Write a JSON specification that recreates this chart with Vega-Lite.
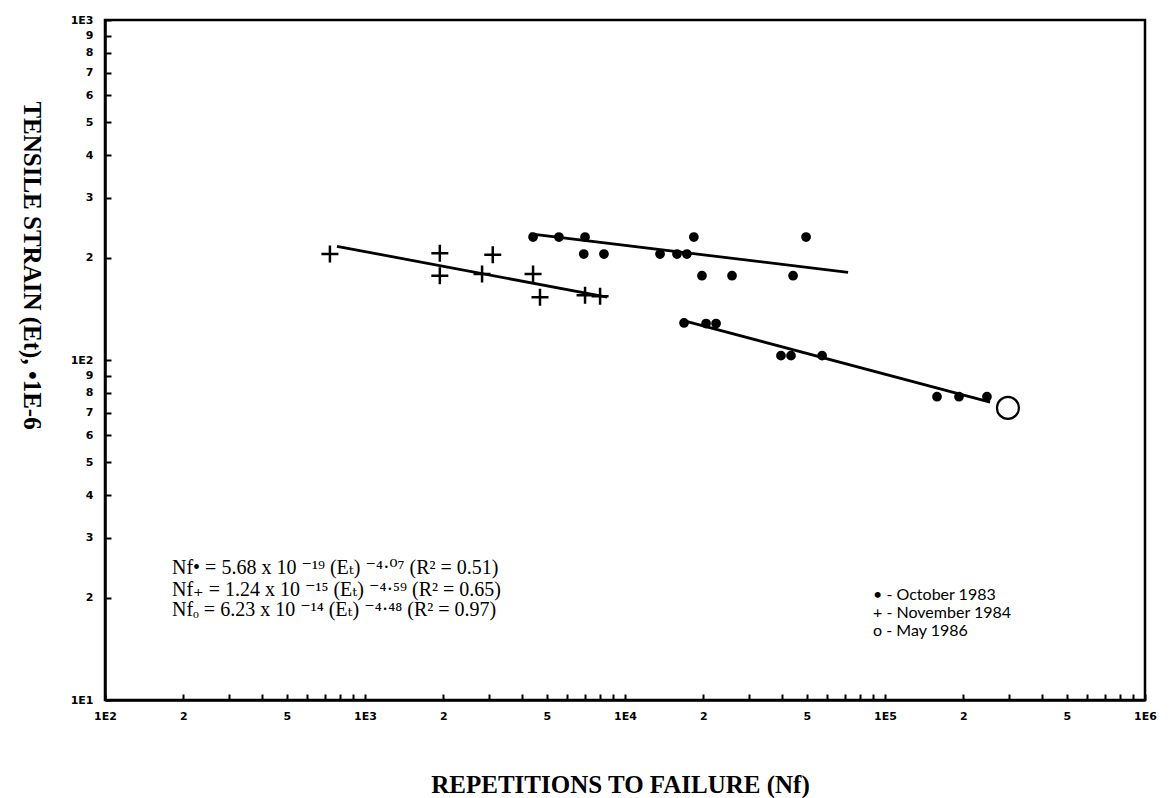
{
  "$schema": "https://vega.github.io/schema/vega-lite/v6.json",
  "width": 1040,
  "height": 680,
  "autosize": {"type": "none"},
  "padding": {"left": 105, "top": 20, "right": 27, "bottom": 98},
  "background": "white",
  "config": {
    "view": {"stroke": "black", "strokeWidth": 2.5},
    "axis": {
      "grid": false,
      "domainColor": "black",
      "domainWidth": 2.5,
      "tickColor": "black",
      "tickWidth": 2,
      "labelColor": "black",
      "labelFont": "DejaVu Sans",
      "labelFontWeight": "bold",
      "labelFontSize": 11,
      "labelFlush": false,
      "labelOverlap": false,
      "titleColor": "black",
      "titleFont": "Liberation Serif",
      "titleFontWeight": "bold"
    }
  },
  "datasets": {
    "points": [
      {"series": "October 1983", "N": 4430, "E": 230},
      {"series": "October 1983", "N": 5570, "E": 230},
      {"series": "October 1983", "N": 7020, "E": 230},
      {"series": "October 1983", "N": 6940, "E": 205},
      {"series": "October 1983", "N": 8300, "E": 205},
      {"series": "October 1983", "N": 13640, "E": 205},
      {"series": "October 1983", "N": 15850, "E": 205},
      {"series": "October 1983", "N": 17300, "E": 205},
      {"series": "October 1983", "N": 18400, "E": 230},
      {"series": "October 1983", "N": 19770, "E": 177},
      {"series": "October 1983", "N": 25800, "E": 177},
      {"series": "October 1983", "N": 44300, "E": 177},
      {"series": "October 1983", "N": 49700, "E": 230},
      {"series": "November 1984", "N": 733, "E": 205},
      {"series": "November 1984", "N": 1940, "E": 206},
      {"series": "November 1984", "N": 1940, "E": 177},
      {"series": "November 1984", "N": 3100, "E": 204},
      {"series": "November 1984", "N": 2820, "E": 179},
      {"series": "November 1984", "N": 4430, "E": 179},
      {"series": "November 1984", "N": 4710, "E": 153},
      {"series": "November 1984", "N": 7020, "E": 155},
      {"series": "November 1984", "N": 8020, "E": 154},
      {"series": "May 1986", "N": 16870, "E": 128.5},
      {"series": "May 1986", "N": 20500, "E": 128},
      {"series": "May 1986", "N": 22400, "E": 128},
      {"series": "May 1986", "N": 39800, "E": 103},
      {"series": "May 1986", "N": 43500, "E": 103},
      {"series": "May 1986", "N": 57300, "E": 103},
      {"series": "May 1986", "N": 158500, "E": 78},
      {"series": "May 1986", "N": 192600, "E": 78},
      {"series": "May 1986", "N": 246700, "E": 78}
    ],
    "fits": [
      {"series": "October 1983", "N": 4320, "E": 235},
      {"series": "October 1983", "N": 72100, "E": 181},
      {"series": "November 1984", "N": 780, "E": 216},
      {"series": "November 1984", "N": 8530, "E": 153},
      {"series": "May 1986", "N": 16500, "E": 131},
      {"series": "May 1986", "N": 253600, "E": 75.2}
    ],
    "ring": [
      {"N": 297000, "E": 72.3}
    ],
    "equations": [
      {"N": 181, "E": 24.4, "label": "Nf• = 5.68 x 10 ⁻¹⁹ (Eₜ) ⁻⁴·⁰⁷ (R² = 0.51)"},
      {"N": 181, "E": 21.1, "label": "Nf₊ = 1.24 x 10 ⁻¹⁵ (Eₜ) ⁻⁴·⁵⁹ (R² = 0.65)"},
      {"N": 181, "E": 18.4, "label": "Nfₒ = 6.23 x 10 ⁻¹⁴ (Eₜ) ⁻⁴·⁴⁸ (R² = 0.97)"}
    ],
    "legend": [
      {"N": 90000, "E": 20.4, "label": "• - October 1983"},
      {"N": 90000, "E": 18.0, "label": "+ - November 1984"},
      {"N": 90000, "E": 16.0, "label": "o - May 1986"}
    ]
  },
  "encoding": {
    "x": {
      "field": "N", "type": "quantitative",
      "scale": {"type": "log", "domain": [100, 1000000], "nice": false},
      "axis": {
        "title": "REPETITIONS TO FAILURE (Nf)",
        "titleFontSize": 25,
        "titleX": 515,
        "titleY": 84,
        "titleBaseline": "middle",
        "titleAlign": "center",
        "tickSize": -6,
        "labelPadding": 16,
        "values": [100,200,300,400,500,600,700,800,900,1000,2000,3000,4000,5000,6000,7000,8000,9000,10000,20000,30000,40000,50000,60000,70000,80000,90000,100000,200000,300000,400000,500000,600000,700000,800000,900000,1000000],
        "labelExpr": "abs(log(datum.value)/LN10 - round(log(datum.value)/LN10)) < 0.001 ? '1E' + round(log(datum.value)/LN10) : ((round(datum.value/pow(10, floor(log(datum.value)/LN10 + 0.001))) == 2 || round(datum.value/pow(10, floor(log(datum.value)/LN10 + 0.001))) == 5) ? '' + round(datum.value/pow(10, floor(log(datum.value)/LN10 + 0.001))) : '')"
      }
    },
    "y": {
      "field": "E", "type": "quantitative",
      "scale": {"type": "log", "domain": [10, 1000], "nice": false},
      "axis": {
        "title": "TENSILE STRAIN (Et), •1E-6",
        "titleFontSize": 25,
        "titleAngle": 90,
        "titleX": -74,
        "titleY": 245,
        "titleAlign": "center",
        "titleBaseline": "middle",
        "tickSize": -6,
        "labelPadding": 18,
        "values": [10,20,30,40,50,60,70,80,90,100,200,300,400,500,600,700,800,900,1000],
        "labelExpr": "abs(log(datum.value)/LN10 - round(log(datum.value)/LN10)) < 0.001 ? '1E' + round(log(datum.value)/LN10) : '' + round(datum.value/pow(10, floor(log(datum.value)/LN10 + 0.001)))"
      }
    }
  },
  "layer": [
    {
      "data": {"name": "fits"},
      "mark": {"type": "line", "color": "black", "strokeWidth": 2.8},
      "encoding": {
        "detail": {"field": "series"}
      }
    },
    {
      "data": {"name": "points"},
      "transform": [{"filter": "datum.series !== 'November 1984'"}],
      "mark": {"type": "point", "shape": "circle", "filled": true, "fill": "black", "stroke": "black", "strokeWidth": 2, "size": 60, "opacity": 1},
      "encoding": {}
    },
    {
      "data": {"name": "points"},
      "transform": [{"filter": "datum.series === 'November 1984'"}],
      "mark": {"type": "point", "shape": "M-1,0H1M0,-1V1", "filled": false, "stroke": "black", "strokeWidth": 2.5, "size": 289, "opacity": 1},
      "encoding": {}
    },
    {
      "data": {"name": "ring"},
      "mark": {"type": "point", "shape": "circle", "filled": false, "stroke": "black", "strokeWidth": 2.2, "size": 480, "opacity": 1},
      "encoding": {}
    },
    {
      "data": {"name": "equations"},
      "mark": {"type": "text", "align": "left", "baseline": "middle", "font": "Liberation Serif, DejaVu Serif", "fontSize": 20, "color": "black"},
      "encoding": {
        "text": {"field": "label"}
      }
    },
    {
      "data": {"name": "legend"},
      "mark": {"type": "text", "align": "left", "baseline": "middle", "font": "Lato, DejaVu Sans", "fontSize": 16, "color": "black"},
      "encoding": {
        "text": {"field": "label"}
      }
    }
  ]
}
